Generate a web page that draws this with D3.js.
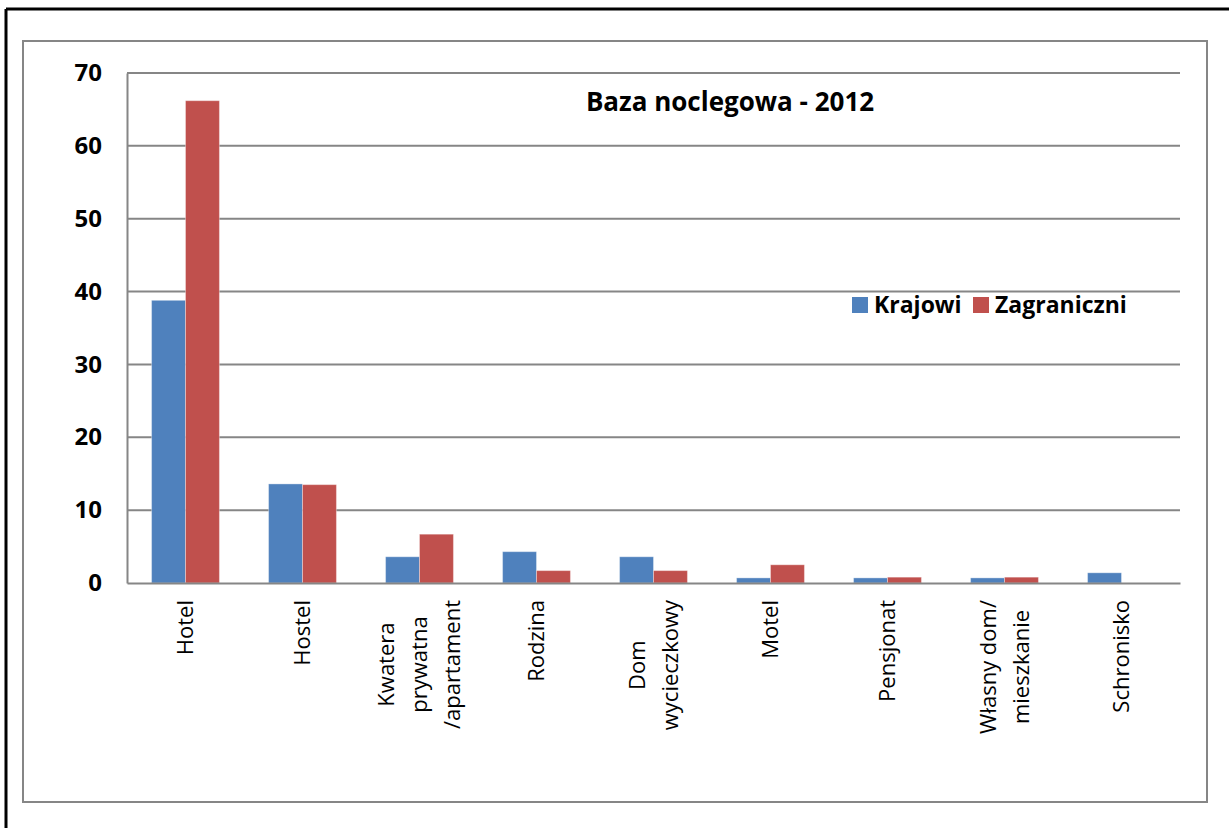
<!DOCTYPE html>
<html>
<head>
<meta charset="utf-8">
<script src="https://cdn.jsdelivr.net/npm/d3@7"></script>
<style>
  html, body { margin: 0; padding: 0; background: #fff; }
  svg { display: block; }
  text { font-family: "Open Sans", "DejaVu Sans", sans-serif; fill: #000; }
</style>
</head>
<body>
<svg id="chart" width="1229" height="828"></svg>
<script>
// ---- Data ----
const categories = ["Hotel", "Hostel", "Kwatera prywatna /apartament", "Rodzina", "Dom wycieczkowy", "Motel", "Pensjonat", "Własny dom/ mieszkanie", "Schronisko"];
const categoryLabelLines = [["Hotel"], ["Hostel"], ["Kwatera", "prywatna", "/apartament"], ["Rodzina"], ["Dom", "wycieczkowy"], ["Motel"], ["Pensjonat"], ["Własny dom/", "mieszkanie"], ["Schronisko"]];
const seriesNames = ["Krajowi", "Zagraniczni"];
const krajowi = [38.8, 13.6, 3.6, 4.3, 3.6, 0.7, 0.7, 0.7, 1.4];
const zagraniczni = [66.2, 13.5, 6.7, 1.7, 1.7, 2.5, 0.8, 0.8, 0];
const yTicks = [0, 10, 20, 30, 40, 50, 60, 70];
const title = "Baza noclegowa - 2012";
const colors = ["#4F81BD", "#C0504D"];

// ---- Layout ----
const svg = d3.select("#chart");
const plot = { left: 127, right: 1180, top: 73, bottom: 583 };

// outer black frame (top and left edges)
svg.append("line").attr("x1", 6).attr("x2", 1229).attr("y1", 9).attr("y2", 9)
  .attr("stroke", "#000").attr("stroke-width", 3);
svg.append("line").attr("x1", 6).attr("x2", 6).attr("y1", 9).attr("y2", 828)
  .attr("stroke", "#000").attr("stroke-width", 3);

// chart area box
svg.append("rect").attr("x", 23).attr("y", 41).attr("width", 1184).attr("height", 761)
  .attr("fill", "#fff").attr("stroke", "#868686").attr("stroke-width", 2);

const x0 = d3.scaleBand().domain(categories).range([plot.left, plot.right])
  .paddingInner(0.42).paddingOuter(0.21);
const x1 = d3.scaleBand().domain(seriesNames).range([0, x0.bandwidth()]);
const y = d3.scaleLinear().domain([0, 70]).range([plot.bottom, plot.top]);

// gridlines
svg.append("g").selectAll("line").data(yTicks.filter(d => d > 0)).join("line")
  .attr("x1", plot.left).attr("x2", plot.right)
  .attr("y1", d => y(d)).attr("y2", d => y(d))
  .attr("stroke", "#868686").attr("stroke-width", 2);

// y axis
const yAxis = svg.append("g").attr("transform", `translate(${plot.left},0)`)
  .call(d3.axisLeft(y).tickValues(yTicks).tickSize(0).tickPadding(25));
yAxis.select(".domain").attr("stroke", "#868686").attr("stroke-width", 2);
yAxis.selectAll("text").attr("font-family", "Open Sans").attr("font-weight", "bold")
  .attr("font-size", 24).attr("fill", "#000");

// bars
const rows = categories.map((c, i) => ({ cat: c, vals: [krajowi[i], zagraniczni[i]] }));
const groups = svg.append("g").selectAll("g").data(rows).join("g")
  .attr("transform", d => `translate(${x0(d.cat)},0)`);
groups.selectAll("rect").data(d => d.vals.map((v, j) => ({ name: seriesNames[j], v, j })))
  .join("rect")
  .attr("x", d => x1(d.name))
  .attr("width", x1.bandwidth())
  .attr("y", d => y(d.v))
  .attr("height", d => y(0) - y(d.v))
  .attr("fill", d => colors[d.j])
  .attr("stroke", "rgba(255,255,255,0.35)").attr("stroke-width", 1);

// x axis
const xAxis = svg.append("g").attr("transform", `translate(0,${plot.bottom})`)
  .call(d3.axisBottom(x0).tickSize(0).tickFormat(""));
xAxis.select(".domain").attr("stroke", "#868686").attr("stroke-width", 2);

// category labels (rotated, multi-line, centered lines)
const lineH = 33;
const labelTop = 600;
categories.forEach((c, i) => {
  const lines = categoryLabelLines[i];
  const cx = x0(c) + x0.bandwidth() / 2;
  const g = svg.append("g");
  const t = g.append("text").attr("font-size", 22).attr("text-anchor", "middle");
  const n = lines.length;
  lines.forEach((ln, k) => {
    t.append("tspan").attr("x", 0).attr("y", (k - (n - 1) / 2) * lineH).attr("dy", "0.35em").text(ln);
  });
  let maxLen = 0;
  t.selectAll("tspan").each(function () { maxLen = Math.max(maxLen, this.getComputedTextLength()); });
  g.attr("transform", `translate(${cx},${labelTop + maxLen / 2}) rotate(-90)`);
});

// title
svg.append("text").attr("x", 730).attr("y", 111).attr("text-anchor", "middle")
  .attr("font-weight", "bold").attr("font-size", 26).text(title);

// legend
const legend = svg.append("g").attr("transform", "translate(852,297)");
const legendX = [0, 121];
seriesNames.forEach((s, j) => {
  const lg = legend.append("g").attr("transform", `translate(${legendX[j]},0)`);
  lg.append("rect").attr("width", 16).attr("height", 16).attr("fill", colors[j]);
  lg.append("text").attr("x", 22).attr("y", 16).attr("font-weight", "bold")
    .attr("font-size", 23).text(s);
});
</script>
</body>
</html>
